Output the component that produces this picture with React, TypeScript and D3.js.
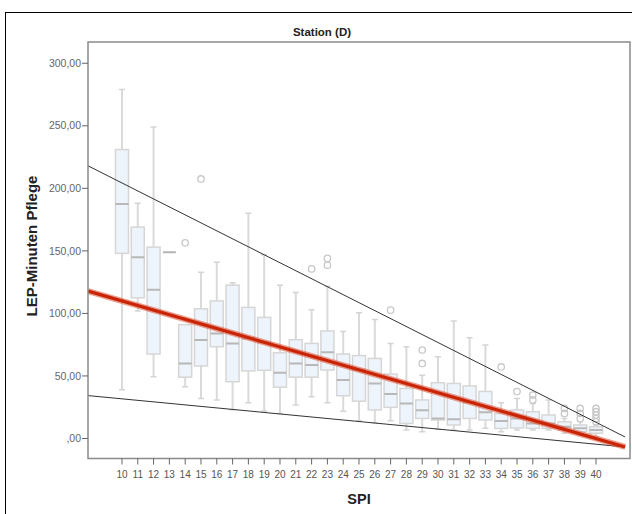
import React from "react";
import * as d3 from "d3";

const spiCats = [10,11,12,13,14,15,16,17,18,19,20,21,22,23,24,25,26,27,28,29,30,31,32,33,34,35,36,37,38,39,40];
const whiskerLow = [39,102,49.4,149,41.4,32,30.8,23,28.6,22,20,26.8,33.4,28.6,21.8,14.2,12.6,14.2,6.8,5.4,7.3,6.8,6.8,8.1,5.4,6.8,6.8,6.8,4.2,2.8,1.4];
const q1 = [148,112.5,67.5,149,49,58,73.4,45.4,54,54.5,41,49,49,54.7,34.2,29.8,22.8,24.9,12,16,14.8,10.8,16,14.8,8,8.4,8.1,8.1,6.8,5.4,4.2];
const median = [187.5,145,119,149,60,78.7,84,76,80,77,52.6,60,58.7,69,46.7,55,44,35.5,28,22.5,16,15.3,29,21,14,16,12,12,9.4,8.1,6.8];
const q3 = [231,169,153,149,91,103.7,110,122.6,104.8,96.8,68.5,79,76,86,67.5,66.3,64,51.5,40,30.8,44.6,44,42,37.6,20,22.8,21.4,18.8,13.4,10.8,9.4];
const whiskerHigh = [279,188,249,149,91,133,141,124.5,180,147,122.6,116.8,103,121.8,85.5,100.5,95.2,76,73.3,50.5,65.3,94,80.5,74.7,28.6,32,28,30.8,16,13.4,10.8];
const outlierSpi = [14,15,22,23,23,27,29,29,34,35,36,36,38,38,39,39,39,40,40,40,40,40];
const outlierValue = [156.4,207.5,135.6,144,138.6,102.6,70.7,60,57.2,37.5,34.7,30.8,24,20,24,20,16,24,21.4,18.8,16,13.4];
const upperLineSpi = [7.85, 41.84];
const upperLineValue = [218, 1.2];
const lowerLineSpi = [7.85, 41.84];
const lowerLineValue = [34.3, -6.8];
const fitLineSpi = [7.85, 41.84];
const fitLineValue = [117.8, -6.8];
const yTicks = [0, 50, 100, 150, 200, 250, 300];

const W = 632, H = 514;
const L = 88, R = 630, T = 42, B = 458.5;

export default function App() {
  const x = d3.scaleLinear().domain([7.85, 42.15]).range([L, R]);
  const y = d3.scaleLinear().domain([-16, 317]).range([B, T]);
  const line = d3.line<[number, number]>().x(d => x(d[0])).y(d => y(d[1]));
  const mk = (s: number[], v: number[]) => s.map((d, i) => [d, v[i]] as [number, number]);
  const bw = 13, cw = 6;
  const fmt = (v: number) => (v === 0 ? ",00" : v.toFixed(2).replace(".", ","));
  const font = "'Liberation Sans', Arial, sans-serif";
  return (
    <svg width={W} height={H} style={{ position: "absolute", left: 0, top: 0, background: "#fff" }} fontFamily={font}>
      <defs>
        <clipPath id="plotClip"><rect x={L} y={T} width={R - L} height={B - T} /></clipPath>
      </defs>
      <rect x={5.5} y={12.5} width={700} height={600} fill="none" stroke="#000" strokeWidth={1} />
      <text x={322} y={36} textAnchor="middle" fontSize={11.5} fontWeight="bold" fill="#222">Station (D)</text>
      <g clipPath="url(#plotClip)">
        {spiCats.map((c, i) => {
          const cx = x(c);
          const single = whiskerLow[i] === whiskerHigh[i];
          if (single) {
            return <line key={c} x1={cx - bw / 2} x2={cx + bw / 2} y1={y(median[i])} y2={y(median[i])} stroke="#b5b5b5" strokeWidth={2} />;
          }
          return (
            <g key={c}>
              <line x1={cx} x2={cx} y1={y(whiskerHigh[i])} y2={y(q3[i])} stroke="#dadada" strokeWidth={2} />
              <line x1={cx} x2={cx} y1={y(q1[i])} y2={y(whiskerLow[i])} stroke="#dadada" strokeWidth={2} />
              <line x1={cx - cw / 2} x2={cx + cw / 2} y1={y(whiskerHigh[i])} y2={y(whiskerHigh[i])} stroke="#d4d4d4" strokeWidth={1.5} />
              <line x1={cx - cw / 2} x2={cx + cw / 2} y1={y(whiskerLow[i])} y2={y(whiskerLow[i])} stroke="#d4d4d4" strokeWidth={1.5} />
              <rect x={cx - bw / 2} y={y(q3[i])} width={bw} height={y(q1[i]) - y(q3[i])} fill="#eef4fb" stroke="#d6d6d6" strokeWidth={1.5} />
              <line x1={cx - bw / 2} x2={cx + bw / 2} y1={y(median[i])} y2={y(median[i])} stroke="#b8b8b8" strokeWidth={2} />
            </g>
          );
        })}
        {outlierSpi.map((s, i) => (
          <circle key={i} cx={x(s)} cy={y(outlierValue[i])} r={3.2} fill="none" stroke="#c8c8c8" strokeWidth={1.3} />
        ))}
        <path d={line(mk(upperLineSpi, upperLineValue)) || ""} fill="none" stroke="#333" strokeWidth={1} />
        <path d={line(mk(lowerLineSpi, lowerLineValue)) || ""} fill="none" stroke="#333" strokeWidth={1} />
        <path d={line(mk(fitLineSpi, fitLineValue)) || ""} fill="none" stroke="#e05a40" strokeOpacity={0.6} strokeWidth={6} />
        <path d={line(mk(fitLineSpi, fitLineValue)) || ""} fill="none" stroke="#c82405" strokeWidth={3.2} />
      </g>
      <rect x={L} y={T} width={R - L} height={B - T} fill="none" stroke="#8a8a8a" strokeWidth={1.5} />
      {yTicks.map(t => (
        <g key={t}>
          <line x1={L - 6} x2={L} y1={y(t)} y2={y(t)} stroke="#666" strokeWidth={1} />
          <text x={L - 7} y={y(t)} dy="0.35em" textAnchor="end" fontSize={10.5} fill="#666">{fmt(t)}</text>
        </g>
      ))}
      {spiCats.map(c => (
        <g key={c}>
          <line x1={x(c)} x2={x(c)} y1={B} y2={B + 6} stroke="#666" strokeWidth={1} />
          <text x={x(c)} y={B + 19} textAnchor="middle" fontSize={10} fill="#555">{c}</text>
        </g>
      ))}
      <text x={359} y={504} textAnchor="middle" fontSize={14.5} fontWeight="bold" fill="#222">SPI</text>
      <text transform={`translate(37, 246) rotate(-90)`} textAnchor="middle" fontSize={15} fontWeight="bold" fill="#222">LEP-Minuten Pflege</text>
    </svg>
  );
}
